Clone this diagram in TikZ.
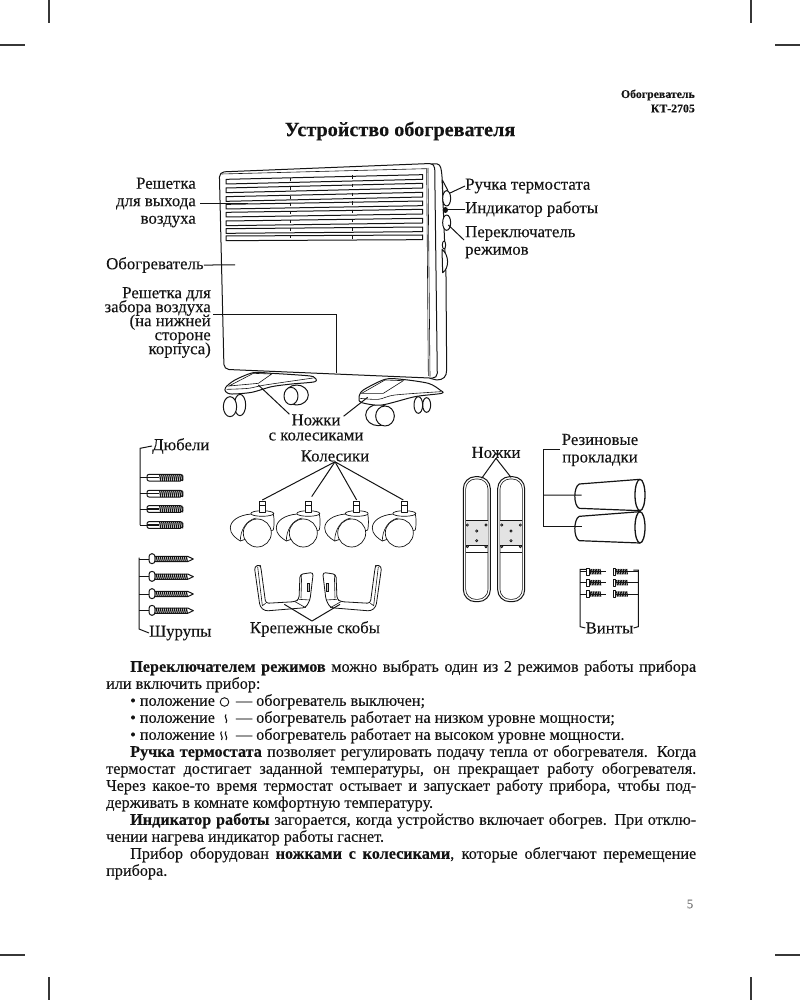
\documentclass[tikz,border=0pt]{standalone}
\usepackage{fontspec}
\setmainfont{Liberation Serif}[FakeBold=0.2]
\usepackage{xcolor}
\definecolor{inkblack}{RGB}{20, 20, 20}
\definecolor{pagegray}{RGB}{120, 120, 120}
\usetikzlibrary{calc,positioning,arrows.meta}
\tolerance=9999
\hbadness=10000
\lineskiplimit=-20pt
\normallineskiplimit=-20pt
\tikzset{
    part/.style={draw=inkblack, line width=1pt, fill=white, line join=round},
    thinpart/.style={draw=inkblack, line width=0.6pt},
    leader/.style={draw=inkblack, line width=1pt},
    cropmark/.style={draw=inkblack!85, line width=1.2pt},
    lbl/.style={inner sep=0pt, text=inkblack, font=\fontsize{16.8}{17.5}\selectfont},
    lbltight/.style={inner sep=0pt, text=inkblack, font=\fontsize{16.8}{14}\selectfont},
    lblmid/.style={inner sep=0pt, text=inkblack, font=\fontsize{16.8}{15}\selectfont}
}

\begin{document}
\begin{tikzpicture}[x=1pt, y=-1pt]
    \useasboundingbox (0,0) rectangle (800,1000);

    % Crop marks
    \foreach \x in {49,751} {
        \draw[cropmark] (\x,0) -- (\x,23);
        \draw[cropmark] (\x,977) -- (\x,1000);
    }
    \foreach \y in {45,955} {
        \draw[cropmark] (0,\y) -- (25,\y);
        \draw[cropmark] (775,\y) -- (800,\y);
    }

    % Page header and title
    \node[lbl, anchor=east, font=\bfseries\fontsize{11.8}{12}\selectfont] (model) at (695,95) {Обогреватель};
    \node[lbl, anchor=east, font=\bfseries\fontsize{11.8}{12}\selectfont] (modelno) at (695,108.5) {КТ-2705};
    \node[lbl, font=\bfseries\fontsize{20.2}{22}\selectfont] (title) at (400,131) {Устройство обогревателя};

    % Legs and their wheels, coordinates taken at 3x from (215,360)
    \begin{scope}[shift={(215,360)}, scale=1/3]
        % Left leg wheels
        \draw[part] (245,105) ellipse (35 and 30);
        \draw[part] (228,108) ellipse (21 and 26);
        \draw[part] (75,135) ellipse (17 and 32);
        \draw[part] (45,140) ellipse (20 and 30);
        % Left leg
        \draw[part] plot[smooth cycle, tension=0.5] coordinates {
            (32,82) (60,60) (115,38) (170,40) (250,45) (295,50) (300,65) (230,72) (170,80) (110,97) (50,102) (32,95)
        };
        \draw[thinpart] (42,78) -- (115,40) -- (170,42) -- (130,70) -- cycle;
        \draw[thinpart] plot[smooth, tension=0.5] coordinates {(35,88) (100,85) (150,75) (295,54)};
        % Right leg wheels
        \draw[part] (635,135) ellipse (12 and 22);
        \draw[part] (610,135) ellipse (13 and 25);
        \draw[part] (490,165) ellipse (38 and 32);
        \draw[part] (510,168) ellipse (28 and 30);
        % Right leg
        \draw[part] plot[smooth cycle, tension=0.5] coordinates {
            (432,110) (445,90) (510,58) (560,58) (640,70) (675,90) (680,100) (600,110) (500,135) (440,128) (432,118)
        };
        \draw[thinpart] (440,100) -- (510,60) -- (565,62) -- (505,100) -- cycle;
        \draw[thinpart] plot[smooth, tension=0.5] coordinates {(435,115) (490,118) (540,105) (678,95)};
        \coordinate (legleftend) at (130,75);
        \coordinate (legrightend) at (458,112);
    \end{scope}

    % Heater, coordinates taken at 3x from (100,160)
    \begin{scope}[shift={(100,160)}, scale=1/3]
        % Side of the body
        \draw[part] (995,12) -- (1012,12) .. controls (1022,14) and (1024,25) .. (1026,50) -- (1038,350) -- (1040,630) .. controls (1040,650) and (1030,660) .. (1010,660) -- (990,655) -- cycle;
        % Front panel
        \draw[part, rounded corners=5] (358,36) -- (1004,10) -- (1012,655) -- (372,628) -- cycle;
        \draw[thinpart] (364,42) -- (980,26) -- (985,648);
        \draw[thinpart] (984,24) -- (990,650);

        % Air outlet slats
        \foreach \ya/\yb in {58/44,84/70,110/97,133/123,157/148,183/175,206/201,228/225} {
            \draw[part] (378,\ya) -- (968,\yb) -- (968,\yb+14) -- (378,\ya+14) -- cycle;
            \draw[inkblack, line width=1pt] (570,\ya-3) -- (570,\ya+6);
            \draw[inkblack, line width=1pt] (758,\yb+1) -- (758,\yb+12);
        }

        % Knobs, lamp and side switches
        \draw[part] (1027,60) -- (1043,90) -- (1030,135) -- cycle;
        \draw[part] (1040,115) ellipse (12 and 23);
        \fill[inkblack] (1036,150) ellipse (8 and 9);
        \draw[part] (1040,188) ellipse (12 and 23);
        \draw[part] (1032,255) ellipse (5 and 12);
        \draw[part] (1026,268) .. controls (1048,285) and (1048,325) .. (1028,338) -- cycle;

        \coordinate (outletend) at (445,130);
        \coordinate (bodyend) at (405,315);
        \coordinate (inletbend) at (710,465);
        \coordinate (inletend) at (710,640);
        \coordinate (knobend) at (1048,100);
        \coordinate (lampend) at (1040,148);
        \coordinate (switchend) at (1045,195);
    \end{scope}

    % Heater labels
    \node[lbl, anchor=north east, align=right] (outlet) at (196,177.5) {Решетка\\для выхода\\воздуха};
    \node[lbl, anchor=west] (body) at (106,265) {Обогреватель};
    \node[lbltight, anchor=north east, align=right] (inlet) at (211,287) {Решетка для\\забора воздуха\\(на нижней\\стороне\\корпуса)};
    \node[lbl, anchor=west] (knob) at (465,186) {Ручка термостата};
    \node[lbl, anchor=west] (lamp) at (465,209) {Индикатор работы};
    \node[lbl, anchor=north west, align=left] (switch) at (465,226) {Переключатель\\режимов};
    \node[lblmid, align=center] (legs) at (316,427.5) {Ножки\\с колесиками};

    \draw[leader] (outlet.east |- outletend) ++(4,0) -- (outletend);
    \draw[leader] (body.east) -- (bodyend);
    \draw[leader] (inlet.east |- inletbend) ++(2,0) -- (inletbend) -- (inletend);
    \draw[leader] (knob.west) -- (knobend);
    \draw[leader] (lamp.west |- lampend) -- (lampend);
    \draw[leader] (switch.north west) ++(-1,14) -- (switchend);
    \draw[leader] (legs.north west) ++(21,0) -- (legleftend);
    \draw[leader] (legs.north east) ++(-20,2) -- (legrightend);

    % Dowels, wood screws and wheel leaders, taken at 3x from (125,435)
    \node[lbl, anchor=west] (dowels) at (152,446) {Дюбели};
    \node[lbl, anchor=west] (woodscrews) at (149,633) {Шурупы};
    \node[lbl] (wheels) at (335,456) {Колесики};
    \node[lbl] (brackets) at (315,629) {Крепежные скобы};
    \begin{scope}[shift={(125,435)}, scale=1/3]
        \coordinate (dowelstop) at (45,40);
        \coordinate (dowelsbottom) at (45,270);
        \coordinate (screwstop) at (42,368);
        \coordinate (screwsbottom) at (42,582);
        \draw[leader] (dowels.west) -- (dowelstop) -- (dowelsbottom);
        \foreach \y in {128,176,222,270} {
            \draw[leader] (45,\y) -- (66,\y);
            \draw[part, rounded corners=2] (66,\y-10) -- (172,\y-10) -- (175,\y) -- (172,\y+10) -- (66,\y+10) -- cycle;
            \draw[inkblack, line width=1.5pt] (66,\y) -- (102,\y);
            \foreach \t in {104,110,...,170} {
                \draw[inkblack, line width=1.2pt] (\t,\y-10) -- (\t+3,\y+10);
            }
        }
        \draw[leader] (screwstop) -- (screwsbottom) -- (woodscrews.west);
        \foreach \y in {372,425,477,527} {
            \draw[leader] (42,\y) -- (72,\y);
            \draw[part, rounded corners=3] (72,\y-16) rectangle (90,\y+14);
            \draw[part] (90,\y-8) -- (188,\y-8) -- (205,\y) -- (188,\y+8) -- (90,\y+8) -- cycle;
            \foreach \t in {94,100,...,184} {
                \draw[inkblack, line width=1.2pt] (\t,\y-8) -- (\t+3,\y+8);
            }
        }

        \coordinate (wheelone) at (412,195);
        \coordinate (wheeltwo) at (560,185);
        \coordinate (wheelthree) at (695,195);
        \coordinate (wheelfour) at (835,195);
        \foreach \w in {wheelone,wheeltwo,wheelthree,wheelfour} {
            \draw[leader] (wheels.south) -- (\w);
        }
    \end{scope}

    % Brackets, taken at 3x from (245,555)
    \begin{scope}[shift={(245,555)}, scale=1/3]
        \foreach \c/\s in {0/1,438/-1} {
            \begin{scope}[shift={(\c,0)}, xscale=\s]
                \draw[part, line width=0.8pt, rounded corners=3] (28,35) -- (45,28) -- (48,40) -- (62,145) -- (150,140) -- (162,133) -- (165,58) -- (205,52) -- (195,135) -- (182,158) -- (60,168) -- (45,155) -- cycle;
                \draw[thinpart] (38,35) -- (52,152) -- (62,145);
                \draw[thinpart] (162,133) -- (195,135);
                \draw[thinpart] (150,140) -- (182,158);
                \draw[thinpart] (170,58) -- (168,130);
                \draw[thinpart, fill=inkblack!25] (187,85) rectangle (193,108);
            \end{scope}
        }
        \coordinate (bracketleft) at (118,148);
        \coordinate (bracketright) at (285,148);
    \end{scope}
    \draw[leader] (brackets.north) ++(-3,0) -- (bracketleft);
    \draw[leader] (brackets.north) ++(-3,0) -- (bracketright);

    % Wheels
    \foreach \x in {262.3,308.3,356.7,404.3} {
        \begin{scope}[shift={(\x,0)}]
            \draw[part, line width=0.7pt] (-11,514) .. controls (-24,515) and (-32,521) .. (-32,528) .. controls (-32,534) and (-27,538) .. (-22,541) -- (11,530) .. controls (12,526) and (12,518) .. (11,514) -- cycle;
            \draw[thinpart] (-22,541) .. controls (-22,530) and (-16,520) .. (-6,518);
            \draw[part, line width=0.7pt] (-5,533) ellipse (14 and 14);
            \draw[part, line width=0.7pt] (0,513.5) ellipse (11.5 and 2.8);
            \draw[part, line width=0.7pt] (-3,501) rectangle (3,512);
            \draw[thinpart] (-3,505) -- (3,505);
        \end{scope}
    }

    % Feet and rubber pads, taken at 3x from (450,430)
    \node[lbl] (feet) at (496,452.5) {Ножки};
    \node[lbl, align=center] (pads) at (600,450) {Резиновые\\прокладки};
    \node[lbl] (bolts) at (609.5,628) {Винты};
    \begin{scope}[shift={(450,430)}, scale=1/3]
        \foreach \x in {0,103} {
            \begin{scope}[shift={(\x,0)}]
                \draw[part, rounded corners=12] (40,140) rectangle (121,515);
                \draw[thinpart, rounded corners=10] (47,147) rectangle (114,508);
                \fill[inkblack!12] (48,270) rectangle (114,345);
                \draw[thinpart] (48,270) -- (114,270);
                \draw[thinpart] (48,345) -- (114,345);
                \draw[thinpart] (48,368) -- (114,368);
                \foreach \hx/\hy in {52/285,108/285,80/303,80/332,52/350,108/350} {
                    \draw[thinpart, fill=inkblack!40] (\hx,\hy) circle (3.5);
                }
            \end{scope}
        }
        \coordinate (footleft) at (95,145);
        \coordinate (footright) at (183,142);
        \coordinate (padsbend) at (280,58);
        \coordinate (padsbottom) at (280,290);
        \coordinate (padone) at (395,195);
        \coordinate (padtwo) at (395,290);
        \foreach \y in {0,97} {
            \begin{scope}[shift={(0,\y)}]
                \draw[part, line width=1.2pt] (570,148) -- (388,162) .. controls (370,170) and (370,228) .. (388,235) -- (570,242);
                \draw[part, line width=1.3pt] (570,195) ellipse (15 and 47);
            \end{scope}
        }
        \draw[leader] (pads.west |- padsbend) ++(-4,0) -- (padsbend) -- (padsbottom) -- (padtwo);
        \draw[leader] (280,195) -- (padone);

        % Small screws
        \coordinate (boltstopl) at (390,418);
        \coordinate (boltstopr) at (565,420);
        \foreach \y in {425,458,492} {
            \draw[leader] (390,\y) -- (410,\y);
            \draw[leader] (548,\y) -- (565,\y);
            \foreach \x in {0,80} {
                \draw[part] (\x+410,\y-10) -- (\x+417,\y-10) -- (\x+417,\y+10) -- (\x+410,\y+10) -- cycle;
                \foreach \t in {420,425,...,452} {
                    \draw[inkblack, line width=1.2pt] (\x+\t,\y-8) -- (\x+\t+2,\y+8);
                }
                \draw[inkblack, line width=0.8pt] (\x+417,\y) -- (\x+468,\y);
            }
        }
        \draw[leader] (bolts.west) -- (390,590) -- (boltstopl) -- (408,418);
        \draw[leader] (bolts.east) -- (565,590) -- (boltstopr) -- (550,420);
    \end{scope}
    \draw[leader] (feet.south) -- (footleft);
    \draw[leader] (feet.south) -- (footright);

    % Body text
    \node[inner sep=0pt, anchor=north west, text width=590pt, align=justify, text=inkblack,
          font=\fontsize{16.2}{17}\selectfont] (bodytext) at (106,660) {%
        \hspace*{24pt}\textbf{Переключателем режимов} можно выбрать один из 2 режимов работы прибора\break
        или включить прибор:\hfill\break
        \hspace*{24pt}• положение\hspace{21pt}— обогреватель выключен;\hfill\break
        \hspace*{24pt}• положение\hspace{21pt}— обогреватель работает на низком уровне мощности;\hfill\break
        \hspace*{24pt}• положение\hspace{21pt}— обогреватель работает на высоком уровне мощности.\hfill\break
        \hspace*{24pt}\textbf{Ручка термостата} позволяет регулировать подачу тепла от обогревателя. Когда\break
        термостат достигает заданной температуры, он прекращает работу обогревателя.\break
        Через какое-то время термостат остывает и запускает работу прибора, чтобы под-\break
        держивать в комнате комфортную температуру.\hfill\break
        \hspace*{24pt}\textbf{Индикатор работы} загорается, когда устройство включает обогрев. При отклю-\break
        чении нагрева индикатор работы гаснет.\hfill\break
        \hspace*{24pt}Прибор оборудован \textbf{ножками с колесиками}, которые облегчают перемещение\break
        прибора.};

    % Mode symbols in the list
    \draw[inkblack, line width=0.9pt] (224.5,702) circle (4.3);
    \draw[inkblack, line width=1.1pt] (226,714.5) .. controls (223.5,717) and (228.5,720) .. (226,723);
    \draw[inkblack, line width=1.1pt] (221.5,731.5) .. controls (219,734) and (224,737) .. (221.5,740);
    \draw[inkblack, line width=1.1pt] (226,731.5) .. controls (223.5,734) and (228.5,737) .. (226,740);

    % Page number
    \node[inner sep=0pt, text=pagegray, font=\fontsize{13}{15}\selectfont] (pagenum) at (690,904) {5};
\end{tikzpicture}
\end{document}
